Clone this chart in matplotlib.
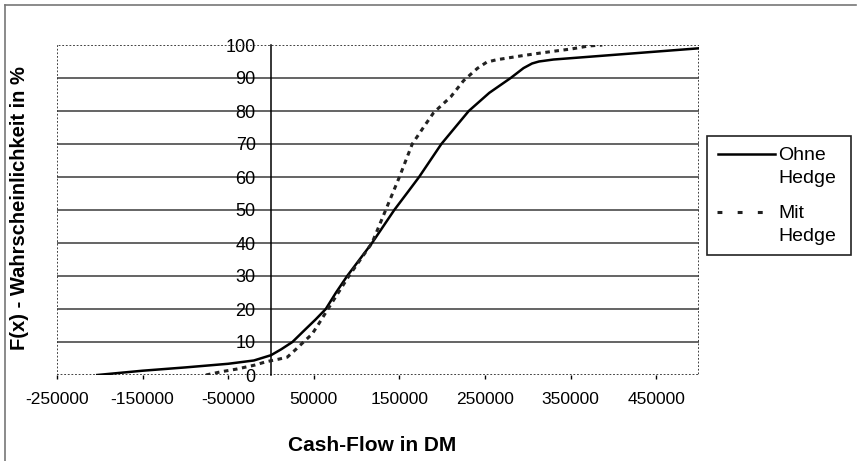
import numpy as np
import matplotlib
matplotlib.use("Agg")
from matplotlib import pyplot as plt
from matplotlib.patches import Rectangle
from matplotlib.lines import Line2D

plt.rcParams['font.family'] = ['Liberation Sans', 'DejaVu Sans']

# Verteilungsfunktion des Cash-Flows ohne Absicherung
ohne_x = [-203000, -150000, -100000, -50000, -20000, 0, 12000, 25000, 40000,
          52000, 64000, 76000, 89000, 118000, 144000, 160000, 173000, 199000,
          231000, 255000, 280000, 295000, 305000, 313000, 330000, 400000,
          500000]
ohne_y = [0, 1.3, 2.3, 3.4, 4.4, 6, 7.8, 10, 13.8, 16.8, 20, 25, 30, 40, 50,
          55.5, 60, 70, 80, 85.5, 90, 93, 94.4, 95, 95.6, 97, 99]

# Verteilungsfunktion mit Hedge
mit_x = [-76000, -58000, -40000, -19000, -6000, 9000, 19000, 30000, 38000,
         48000, 56000, 68000, 91000, 118000, 134000, 150000, 165000, 178000,
         190000, 210000, 225000, 241000, 252000, 263000, 275000, 292000,
         313000, 333000, 351000, 371000, 387000]
mit_y = [0, 1, 1.8, 3, 4, 4.8, 5.4, 8, 10, 12.4, 15.6, 20.6, 30, 40, 50, 60,
         70, 75, 79.5, 84.3, 89.2, 92.9, 94.8, 95.5, 96, 96.7, 97.5, 98.2,
         98.8, 99.7, 100]

x_ticks = list(range(-250000, 450001, 100000))
y_ticks = list(range(0, 101, 10))
labels = ["Ohne\nHedge", "Mit\nHedge"]

fig = plt.figure(figsize=(8.64, 4.61), dpi=100, facecolor='white')
ax = fig.add_axes([57/864, 1-375/461, (699-57)/864, (375-45)/461])

ax.set_xlim(-250000, 500000)
ax.set_ylim(0, 100)

for y in y_ticks[1:-1]:
    ax.axhline(y, color='#3a3a3a', lw=1.1, zorder=1)

ax.plot(ohne_x, ohne_y, color='black', lw=1.8, zorder=3)
ax.plot(mit_x, mit_y, color='#222222', lw=2.2, ls=(0, (1.5, 1.5)), zorder=3)

# Zeichenflaeche gepunktet umrandet, y-Achse bei x = 0
ax.add_patch(Rectangle((0, 0), 1, 1, transform=ax.transAxes, fill=False,
                       ec='#333333', lw=1.3, ls=(0, (1, 1)), zorder=2))
for s in ['top', 'right', 'bottom']:
    ax.spines[s].set_visible(False)
ax.spines['left'].set_position(('data', 0))
ax.spines['left'].set_color('black')
ax.spines['left'].set_linewidth(1.1)

ax.set_xticks(x_ticks)
ax.set_xticklabels([str(v) for v in x_ticks])
ax.set_yticks(y_ticks)
ax.tick_params(axis='x', direction='out', length=3, width=1, pad=9,
               labelsize=12.5, colors='black')
ax.tick_params(axis='y', length=0, pad=11, labelsize=13, colors='black')

fig.text(372/864, 1-445/461, "Cash-Flow in DM", fontsize=15,
         fontweight='bold', ha='center', va='center')
fig.text(20/864, 1-208/461, "F(x) - Wahrscheinlichkeit in %", fontsize=14.5,
         fontweight='bold', ha='center', va='center', rotation=90)

# Legende
fig.add_artist(Rectangle((707/864, 1-255/461), (851-707)/864, (255-136)/461,
                         transform=fig.transFigure, fill=False, ec='#222222',
                         lw=1.2))
fig.add_artist(Line2D([718/864, 775/864], [1-154/461, 1-154/461],
                      transform=fig.transFigure, color='black', lw=1.8))
fig.add_artist(Line2D([717/864, 775/864], [1-212/461, 1-212/461],
                      transform=fig.transFigure, color='#222222', lw=2.2,
                      ls=(0, (1.6, 5))))
fig.text(778/864, 1-167/461, labels[0], fontsize=14, ha='left', va='center',
         linespacing=1.45)
fig.text(778/864, 1-225/461, labels[1], fontsize=14, ha='left', va='center',
         linespacing=1.45)

# Rahmen des Diagramms
fig.add_artist(Line2D([5/864, 856/864], [1-5/461, 1-5/461],
                      transform=fig.transFigure, color='#777777', lw=1.2))
fig.add_artist(Line2D([5/864, 5/864], [0, 1-5/461],
                      transform=fig.transFigure, color='#777777', lw=1.2))

fig.savefig("out.png", dpi=100, facecolor='white')
